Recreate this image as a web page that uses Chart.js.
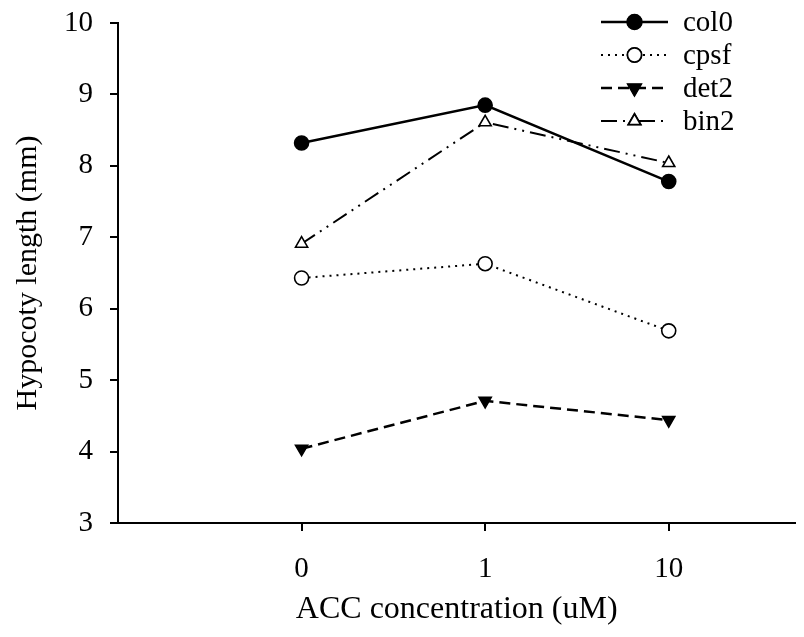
<!DOCTYPE html>
<html>
<head>
<meta charset="utf-8">
<script src="https://cdn.jsdelivr.net/npm/chart.js@4/dist/chart.umd.min.js"></script>
<style>
  body { margin: 0; background: #fff; }
  canvas { display: block; }
</style>
</head>
<body>
<canvas id="hypo" width="804" height="637"></canvas>
<script>
// ACC concentrations (uM) and hypocotyl lengths (mm)
const categories = ["0", "1", "10"];
const col0 = [8.32, 8.85, 7.78];
const cpsf = [6.43, 6.63, 5.69];
const det2 = [4.04, 4.71, 4.44];
const bin2 = [6.91, 8.61, 8.04];
const yTicks = [3, 4, 5, 6, 7, 8, 9, 10];

const FONT = "'Liberation Serif', 'Times New Roman', serif";

function pts(arr) {
  return arr.map((v, i) => ({ x: i, y: v }));
}

function series(label, vals, opts) {
  return Object.assign({
    label: label,
    data: pts(vals),
    borderColor: '#000',
    pointBorderColor: '#000',
    pointBorderWidth: 1.6,
    pointRadius: 7,
    borderWidth: 2,
    tension: 0,
    fill: false
  }, opts);
}

// legend drawn with line sample + marker, like the original
const lineLegend = {
  id: 'lineLegend',
  afterDraw(chart) {
    const ctx = chart.ctx;
    const x0 = 601, x1 = 668, tx = 683;
    chart.data.datasets.forEach((ds, i) => {
      const y = 22 + i * 33;
      ctx.save();
      ctx.strokeStyle = '#000';
      ctx.lineWidth = ds.borderWidth;
      ctx.setLineDash(ds.borderDash || []);
      ctx.beginPath();
      ctx.moveTo(x0, y);
      ctx.lineTo(x1, y);
      ctx.stroke();
      ctx.setLineDash([]);
      Chart.helpers.drawPoint(ctx, {
        pointStyle: ds.pointStyle,
        rotation: ds.pointRotation || 0,
        radius: ds.pointRadius,
        borderWidth: ds.pointBorderWidth
      }, (x0 + x1) / 2, y);
      ctx.fillStyle = ds.pointBackgroundColor;
      ctx.strokeStyle = '#000';
      ctx.lineWidth = ds.pointBorderWidth;
      ctx.fill();
      ctx.stroke();
      ctx.fillStyle = '#000';
      ctx.font = '29px ' + FONT;
      ctx.textAlign = 'left';
      ctx.textBaseline = 'middle';
      ctx.fillText(ds.label, tx, y + 1);
      ctx.restore();
    });
  }
};

new Chart(document.getElementById('hypo'), {
  type: 'line',
  data: {
    datasets: [
      series('col0', col0, { pointStyle: 'circle', pointBackgroundColor: '#000', borderWidth: 2.5 }),
      series('cpsf', cpsf, { pointStyle: 'circle', pointBackgroundColor: '#fff', borderDash: [2, 5] }),
      series('det2', det2, { pointStyle: 'triangle', pointRotation: 180, pointBackgroundColor: '#000', borderDash: [11, 6], borderWidth: 2.5 }),
      series('bin2', bin2, { pointStyle: 'triangle', pointBackgroundColor: '#fff', borderDash: [16, 6, 2, 6, 2, 6] })
    ]
  },
  options: {
    responsive: false,
    animation: false,
    layout: { padding: { top: 23, right: 1, left: 0, bottom: 0 } },
    plugins: { legend: { display: false }, tooltip: { enabled: false } },
    scales: {
      x: {
        type: 'linear',
        min: -1,
        max: 2.69,
        afterBuildTicks: (scale) => { scale.ticks = categories.map((c, i) => ({ value: i })); },
        afterFit: (scale) => {
          scale.height = 114;
          scale.paddingLeft = 0;
          scale.paddingRight = 0;
        },
        ticks: {
          callback: (v) => categories[v],
          color: '#000',
          font: { family: FONT, size: 29 },
          padding: 21,
          maxRotation: 0
        },
        grid: { drawOnChartArea: false, tickLength: 8, color: '#000', lineWidth: 2 },
        border: { color: '#000', width: 2 },
        title: {
          display: true,
          text: 'ACC concentration (uM)',
          color: '#000',
          font: { family: FONT, size: 32 },
          padding: { top: 4, bottom: 8 }
        }
      },
      y: {
        min: 3,
        max: 10,
        afterBuildTicks: (scale) => { scale.ticks = yTicks.map(v => ({ value: v })); },
        afterFit: (scale) => {
          scale.width = 118;
          scale.paddingTop = 0;
          scale.paddingBottom = 0;
        },
        ticks: {
          color: '#000',
          font: { family: FONT, size: 29 },
          padding: 17
        },
        grid: { drawOnChartArea: false, tickLength: 8, color: '#000', lineWidth: 2 },
        border: { color: '#000', width: 2 },
        title: {
          display: true,
          text: 'Hypocoty length (mm)',
          color: '#000',
          font: { family: FONT, size: 30 },
          padding: { top: 10, bottom: 0 }
        }
      }
    }
  },
  plugins: [lineLegend]
});
</script>
</body>
</html>
